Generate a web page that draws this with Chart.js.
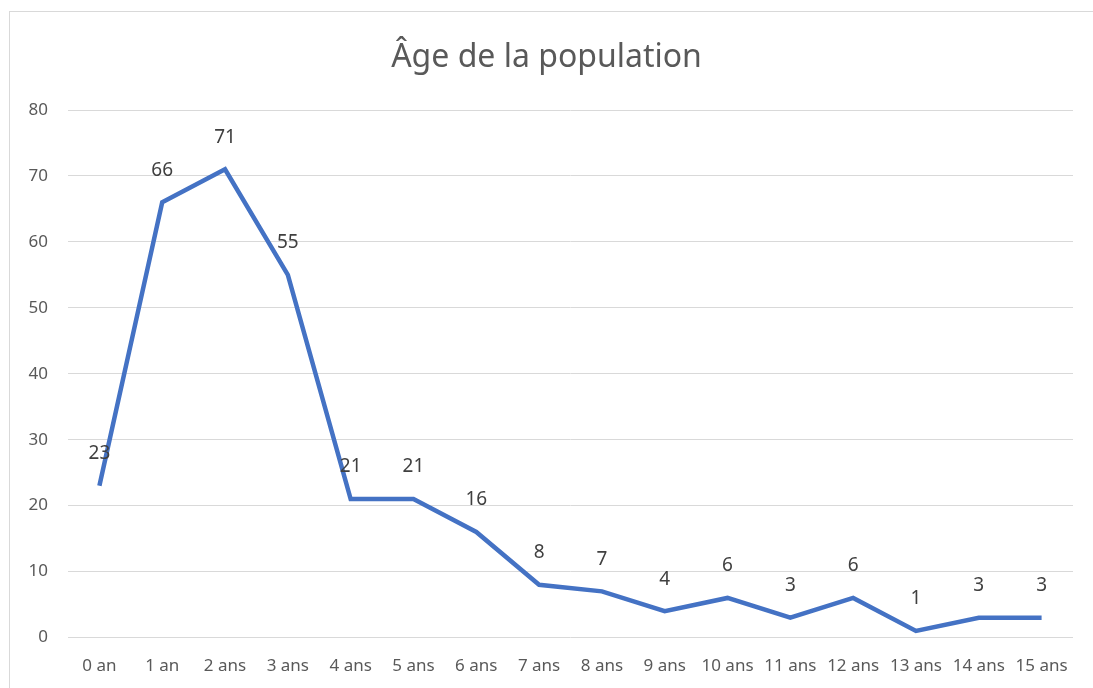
<!DOCTYPE html>
<html>
<head>
<meta charset="utf-8">
<script src="https://cdn.jsdelivr.net/npm/chart.js@4/dist/chart.umd.min.js"></script>
<style>
    html, body { margin: 0; padding: 0; background: #fff; }
    #cadre { position: absolute; left: 9px; top: 11px; width: 1100px; height: 700px; border: 1px solid #d9d9d9; box-sizing: border-box; }
    #wrap { position: absolute; left: 0; top: 0; width: 1093px; height: 688px; }
</style>
</head>
<body>
<div id="cadre"></div>
<div id="wrap"><canvas id="chart_age"></canvas></div>
<script>
// donnees
var label_age = ["0 an", "1 an", "2 ans", "3 ans", "4 ans", "5 ans", "6 ans", "7 ans",
    "8 ans", "9 ans", "10 ans", "11 ans", "12 ans", "13 ans", "14 ans", "15 ans"];
var value_age = [23, 66, 71, 55, 21, 21, 16, 8, 7, 4, 6, 3, 6, 1, 3, 3];
var ticks_y = [0, 10, 20, 30, 40, 50, 60, 70, 80];

var police = "'Noto Sans', 'Open Sans', sans-serif";

// etiquettes au dessus des points
var etiquettes = {
    id: "etiquettes",
    afterDatasetsDraw: function (chart) {
        var ctx = chart.ctx;
        var meta = chart.getDatasetMeta(0);
        ctx.save();
        ctx.font = "19px " + police;
        ctx.fillStyle = "#404040";
        ctx.textAlign = "center";
        ctx.textBaseline = "middle";
        meta.data.forEach(function (pt, i) {
            ctx.fillText(value_age[i], pt.x, pt.y - 32);
        });
        ctx.restore();
    },
};

var ctx_age = document.getElementById("chart_age");
var chart_age = new Chart(ctx_age, {
    type: "line",
    data: {
        labels: label_age,
        datasets: [
            {
                label: "Âge",
                data: value_age,
                borderColor: "#4472C4",
                borderWidth: 4.5,
                pointRadius: 0,
                tension: 0,
                fill: false,
            },
        ],
    },
    options: {
        responsive: true,
        maintainAspectRatio: false,
        animation: false,
        layout: { padding: { left: 20, right: 20, top: 0, bottom: 0 } },
        plugins: {
            legend: { display: false },
            tooltip: { enabled: false },
            title: {
                display: true,
                text: "Âge de la population",
                color: "#595959",
                font: { family: police, size: 32, weight: "normal" },
                padding: { top: 39, bottom: 32.6 },
            },
        },
        scales: {
            x: {
                offset: true,
                grid: { display: false, drawTicks: false },
                border: { display: false },
                ticks: {
                    color: "#595959",
                    font: { family: police, size: 17 },
                    padding: 18,
                    maxRotation: 0,
                    autoSkip: false,
                },
                afterFit: function (s) { s.height = 50.5; },
            },
            y: {
                min: 0,
                max: 80,
                afterBuildTicks: function (s) {
                    s.ticks = ticks_y.map(function (v) { return { value: v }; });
                },
                grid: { color: "#d9d9d9", lineWidth: 1, drawTicks: false },
                border: { display: false },
                ticks: {
                    color: "#595959",
                    font: { family: police, size: 17 },
                    padding: 20,
                },
                afterFit: function (s) { s.width = 48; },
            },
        },
    },
    plugins: [etiquettes],
});
</script>
</body>
</html>
